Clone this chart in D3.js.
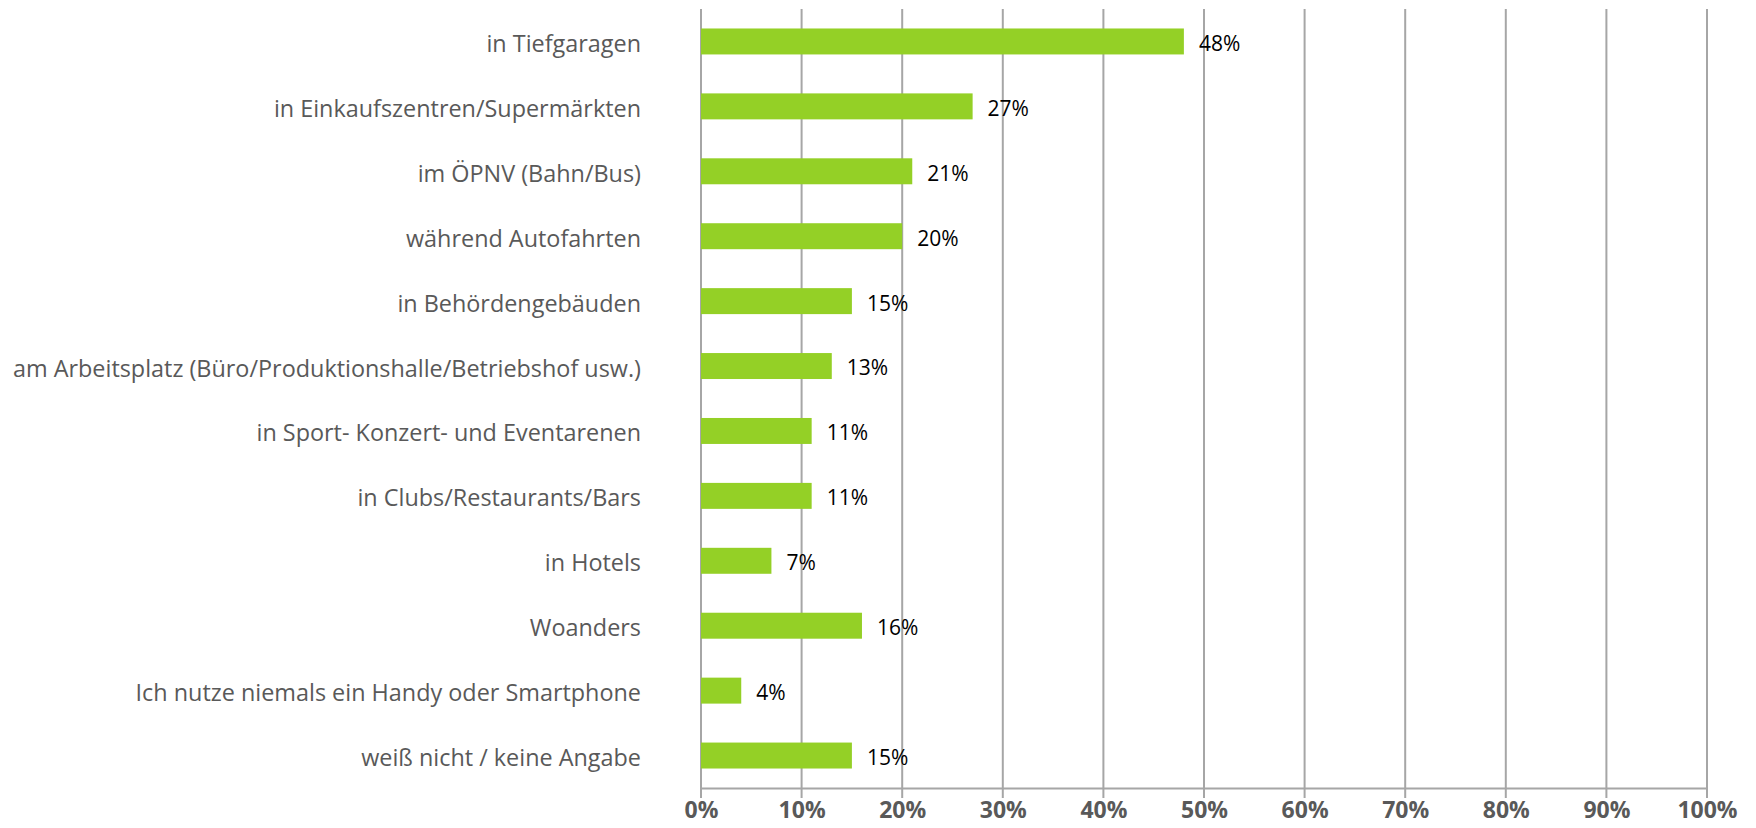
<!DOCTYPE html>
<html>
<head>
<meta charset="utf-8">
<script src="https://cdn.jsdelivr.net/npm/d3@7"></script>
<style>
  html, body { margin: 0; padding: 0; background: #fff; }
  svg { display: block; font-family: "Open Sans", "Noto Sans", sans-serif; }
</style>
</head>
<body>
<div id="chart"></div>
<script>
const categories = [
  "in Tiefgaragen",
  "in Einkaufszentren/Supermärkten",
  "im ÖPNV (Bahn/Bus)",
  "während Autofahrten",
  "in Behördengebäuden",
  "am Arbeitsplatz (Büro/Produktionshalle/Betriebshof usw.)",
  "in Sport- Konzert- und Eventarenen",
  "in Clubs/Restaurants/Bars",
  "in Hotels",
  "Woanders",
  "Ich nutze niemals ein Handy oder Smartphone",
  "weiß nicht / keine Angabe"
];
const values = [48, 27, 21, 20, 15, 13, 11, 11, 7, 16, 4, 15];
const tickValues = [0, 10, 20, 30, 40, 50, 60, 70, 80, 90, 100];

const width = 1756, height = 828;
const margin = { top: 9, right: 49, bottom: 40, left: 701 };

const data = categories.map((c, i) => ({ category: c, value: values[i] }));

const svg = d3.select("#chart").append("svg")
  .attr("width", width)
  .attr("height", height);

const x = d3.scaleLinear().domain([0, 100]).range([margin.left, width - margin.right]);
const y = d3.scaleBand().domain(categories).range([margin.top, height - margin.bottom]).paddingInner(0.6).paddingOuter(0.3);

// vertical grid lines
svg.append("g")
  .selectAll("line")
  .data(tickValues)
  .join("line")
  .attr("x1", d => x(d)).attr("x2", d => x(d))
  .attr("y1", margin.top).attr("y2", height - margin.bottom + 10)
  .attr("stroke", "#a6a6a6")
  .attr("stroke-width", 2);

// bottom axis
const xAxis = svg.append("g")
  .attr("transform", `translate(0,${height - margin.bottom})`)
  .call(d3.axisBottom(x).tickValues(tickValues).tickFormat(d => d + "%").tickSize(0).tickPadding(14));
xAxis.select(".domain").attr("stroke", "#a6a6a6").attr("stroke-width", 2);
xAxis.selectAll("text")
  .attr("fill", "#595959")
  .attr("font-size", 23)
  .attr("font-weight", "bold")
  .attr("font-family", "Open Sans, Noto Sans, sans-serif");

// category labels
svg.append("g")
  .selectAll("text")
  .data(data)
  .join("text")
  .attr("x", margin.left - 60)
  .attr("y", d => y(d.category) + y.bandwidth() / 2)
  .attr("dy", "0.45em")
  .attr("text-anchor", "end")
  .attr("fill", "#595959")
  .attr("font-size", 23.4)
  .text(d => d.category);

// bars
svg.append("g")
  .selectAll("rect")
  .data(data)
  .join("rect")
  .attr("x", x(0))
  .attr("y", d => y(d.category))
  .attr("width", d => x(d.value) - x(0))
  .attr("height", y.bandwidth())
  .attr("fill", "#94d026");

// value labels
svg.append("g")
  .selectAll("text")
  .data(data)
  .join("text")
  .attr("x", d => x(d.value) + 15)
  .attr("y", d => y(d.category) + y.bandwidth() / 2)
  .attr("dy", "0.45em")
  .attr("fill", "#000")
  .attr("font-size", 21)
  .text(d => d.value + "%");
</script>
</body>
</html>
